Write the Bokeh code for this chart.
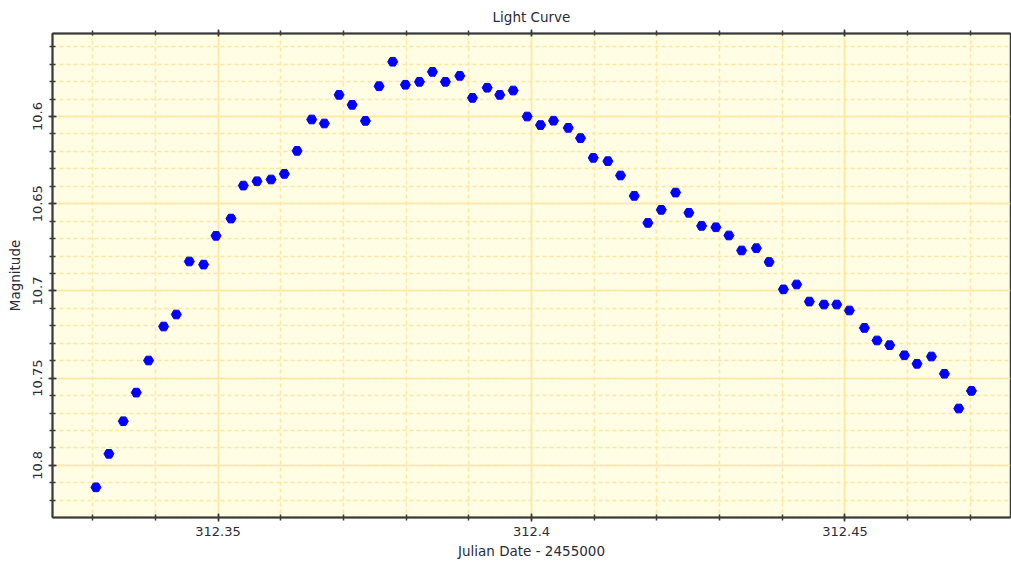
from bokeh.plotting import figure
from bokeh.models import Range1d, LinearAxis, FixedTicker, CustomJSTickFormatter
from bokeh.embed import file_html
from bokeh.resources import INLINE

# ---- data ----
julian_date = [
    312.33053, 312.33260, 312.33489, 312.33696, 312.33892, 312.34132, 312.34335, 312.34542,
    312.34770, 312.34968, 312.35207, 312.35404, 312.35622, 312.35846, 312.36058, 312.36261,
    312.36494, 312.36696, 312.36931, 312.37139, 312.37351, 312.37569, 312.37786, 312.37989,
    312.38213, 312.38420, 312.38627, 312.38856, 312.39058, 312.39293, 312.39494, 312.39708,
    312.39931, 312.40144, 312.40351, 312.40586, 312.40782, 312.40985, 312.41218, 312.41420,
    312.41639, 312.41856, 312.42070, 312.42298, 312.42510, 312.42713, 312.42941, 312.43149,
    312.43351, 312.43586, 312.43790, 312.44018, 312.44229, 312.44432, 312.44665, 312.44868,
    312.45070, 312.45310, 312.45511, 312.45713, 312.45948, 312.46149, 312.46379, 312.46586,
    312.46815, 312.47017,
]
magnitude = [
    10.8126, 10.7934, 10.7747, 10.7583, 10.7399, 10.7204, 10.7135, 10.6831,
    10.6849, 10.6684, 10.6585, 10.6396, 10.6371, 10.6361, 10.6329, 10.6197,
    10.6017, 10.6040, 10.5876, 10.5933, 10.6025, 10.5826, 10.5686, 10.5818,
    10.5801, 10.5744, 10.5801, 10.5767, 10.5893, 10.5835, 10.5876, 10.5851,
    10.6000, 10.6049, 10.6024, 10.6065, 10.6124, 10.6237, 10.6256, 10.6338,
    10.6455, 10.6610, 10.6535, 10.6436, 10.6552, 10.6627, 10.6635, 10.6682,
    10.6768, 10.6755, 10.6834, 10.6991, 10.6963, 10.7061, 10.7078, 10.7078,
    10.7112, 10.7212, 10.7284, 10.7311, 10.7369, 10.7418, 10.7376, 10.7475,
    10.7674, 10.7573,
]
x_major_ticks = [312.35, 312.4, 312.45]
x_minor_ticks = [round(312.32 + 0.01 * i, 2) for i in range(17)]
y_major_ticks = [10.6, 10.65, 10.7, 10.75, 10.8]
y_minor_ticks = [round(10.55 + 0.01 * i, 2) for i in range(29)]

title_text = "Light Curve"
x_label = "Julian Date - 2455000"
y_label = "Magnitude"

# ---- figure ----
FONT = "DejaVu Sans"
TEXT = "#2b2b38"
GRID = "#FFE6A2"
AXIS = "#3a3a3a"

p = figure(
    width=1011, height=565,
    x_range=Range1d(312.3236, 312.4764),
    y_range=Range1d(10.8299, 10.5524),
    output_backend="svg", toolbar_location=None,
    min_border_left=52, min_border_right=1, min_border_top=33, min_border_bottom=48,
    background_fill_color="#FFFDE4", border_fill_color="white",
    x_axis_label=x_label, y_axis_label=y_label,
)
p.title.text = title_text
p.title.align = "center"
p.title.text_font = FONT
p.title.text_font_size = "13.5px"
p.title.text_font_style = "normal"
p.title.text_color = TEXT
p.title.standoff = 9

p.outline_line_color = AXIS
p.outline_line_width = 1.5

fmt = CustomJSTickFormatter(code="return String(Number(tick.toPrecision(6)));")
xt = FixedTicker(ticks=x_major_ticks, minor_ticks=x_minor_ticks)
yt = FixedTicker(ticks=y_major_ticks, minor_ticks=y_minor_ticks)

for ax, t in ((p.xaxis[0], xt), (p.yaxis[0], yt)):
    ax.ticker = t
    ax.formatter = fmt
    ax.axis_line_color = AXIS
    ax.axis_line_width = 2
    ax.major_tick_line_color = AXIS
    ax.minor_tick_line_color = AXIS
    ax.major_tick_line_width = 1.5
    ax.minor_tick_line_width = 1.5
    ax.major_tick_in = 4
    ax.major_tick_out = 4
    ax.minor_tick_in = 3
    ax.minor_tick_out = 3
    ax.major_label_text_font = FONT
    ax.major_label_text_font_size = "13px"
    ax.major_label_text_color = TEXT
    ax.axis_label_text_font = FONT
    ax.axis_label_text_font_size = "13.5px"
    ax.axis_label_text_font_style = "normal"
    ax.axis_label_text_color = TEXT

p.xaxis.major_label_standoff = 5
p.xaxis.axis_label_standoff = 4
p.yaxis.major_label_standoff = 6
p.yaxis.axis_label_standoff = 8
p.yaxis.major_label_orientation = "vertical"

top = LinearAxis(ticker=xt, formatter=CustomJSTickFormatter(code="return '';"),
                 major_label_standoff=0,
                 axis_line_color=AXIS, axis_line_width=2,
                 major_tick_line_color=AXIS, minor_tick_line_color=AXIS,
                 major_tick_line_width=1.5, minor_tick_line_width=1.5,
                 major_tick_in=3, major_tick_out=4, minor_tick_in=2, minor_tick_out=3)
p.add_layout(top, "above")

for g, t in ((p.xgrid[0], xt), (p.ygrid[0], yt)):
    g.ticker = t
    g.grid_line_color = GRID
    g.grid_line_width = 1.5
    g.minor_grid_line_color = GRID
    g.minor_grid_line_width = 1.5
    g.minor_grid_line_dash = "4 3"

p.scatter(julian_date, magnitude, marker="hex", size=10,
          fill_color="#0000FF", line_color="#0000FF")

open("out.html", "w").write(file_html(p, INLINE))
